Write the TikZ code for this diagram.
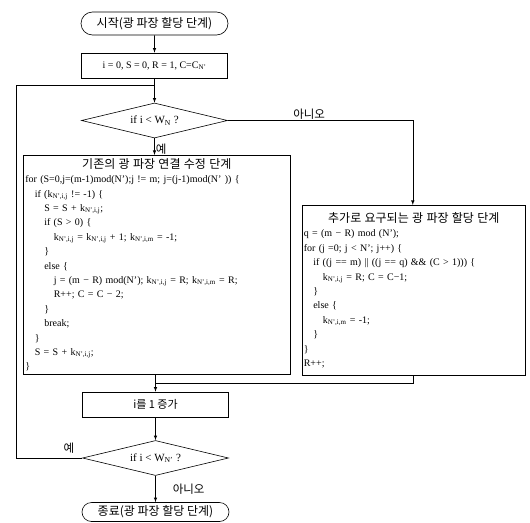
\documentclass[tikz,border=0pt]{standalone}
\usepackage{fontspec}
\setmainfont{Liberation Serif}
\newfontfamily\kr{Noto Sans CJK KR}
\usetikzlibrary{arrows,shapes.geometric,shapes.misc}

\newcommand{\kN}[1]{k\textsubscript{N',#1}}
\newcommand{\tb}{\hspace*{9.5pt}}

\begin{document}
\begin{tikzpicture}[x=1pt,y=-1pt,line width=0.6pt,
  every node/.style={font=\fontsize{10}{14.4}\selectfont},
  term/.style={draw,rounded rectangle,minimum width=147pt,minimum height=23pt,inner sep=0pt,font=\kr\fontsize{12}{14}\selectfont},
  proc/.style={draw,rectangle,minimum width=146pt,minimum height=25pt,inner sep=0pt},
  dec/.style={draw,diamond,aspect=4,minimum width=146pt,minimum height=35pt,inner sep=0pt,font=\fontsize{11}{13}\selectfont},
  code/.style={draw,rectangle,align=left,anchor=north west,inner xsep=2pt,inner ysep=3pt},
  lbl/.style={font=\kr\fontsize{11.5}{13}\selectfont,inner sep=1pt}]
\useasboundingbox (0,0) rectangle (530,522);

\node[term] (start) at (154.5,23.5) {시작(광 파장 할당 단계)};
\node[proc] (init) at (154.5,65.5) {i = 0, S = 0, R = 1, C=C\textsubscript{N'}};
\node[dec] (if1) at (154.5,120.5) {if i < W\textsubscript{N} ?};

\node[code,text width=263pt] (fix) at (23,155) {
\makebox[263pt][c]{\kr\fontsize{12}{14}\selectfont 기존의 광 파장 연결 수정 단계}\\
for (S=0,j=(m-1)mod(N');j != m; j=(j-1)mod(N' )) \{\\
\tb if (\kN{i,j} != -1) \{\\
\tb\tb S = S + \kN{i,j};\\
\tb\tb if (S > 0) \{\\
\tb\tb\tb \kN{i,j} = \kN{i,j} + 1; \kN{i,m} = -1;\\
\tb\tb \}\\
\tb\tb else \{\\
\tb\tb\tb j = (m − R) mod(N'); \kN{i,j} = R; \kN{i,m} = R;\\
\tb\tb\tb R++; C = C − 2;\\
\tb\tb \}\\
\tb\tb break;\\
\tb \}\\
\tb S = S + \kN{i,j};\\
\}};

\node[code,text width=220pt,inner xsep=1.5pt,minimum height=170pt] (add) at (302,205) {
\makebox[220pt][c]{\kr\fontsize{12}{14}\selectfont 추가로 요구되는 광 파장 할당 단계}\\
q = (m − R) mod (N');\\
for (j =0; j < N'; j++) \{\\
\tb if ((j == m) || ((j == q) \&\& (C > 1))) \{\\
\tb\tb \kN{i,j} = R; C = C−1;\\
\tb \}\\
\tb else \{\\
\tb\tb \kN{i,m} = -1;\\
\tb \}\\
\}\\
R++;};

\node[proc] (inc) at (155.5,404.5) {\kr\fontsize{11}{13}\selectfont i를 1 증가};
\node[dec] (if2) at (155.5,458) {if i < W\textsubscript{N'} ?};
\node[term,minimum height=19pt] (end) at (155.5,512) {종료(광 파장 할당 단계)};

\coordinate (join) at (155.5,383.5);
\coordinate (back) at (16,85);

\draw[-latex] (start) -- (init);
\draw[-latex] (init) -- (if1);
\draw[-latex] (if1.south) -- node[lbl,right,pos=0.65]{예} (if1.south |- fix.north);
\draw[-latex] (if1.east) -| node[lbl,above,pos=0.22]{아니오} ([xshift=-1pt]add.north);
\draw[-latex] (fix.south -| inc.north) -- (inc.north);
\draw ([xshift=-1pt]add.south) |- (join);
\draw[-latex] (inc) -- (if2);
\draw[-latex] (if2) -- node[lbl,right=16pt]{아니오} (end);
\draw (if2.west) -| node[lbl,above=3pt,pos=0.1]{예} (back) -- (init.south |- back);
\end{tikzpicture}
\end{document}
